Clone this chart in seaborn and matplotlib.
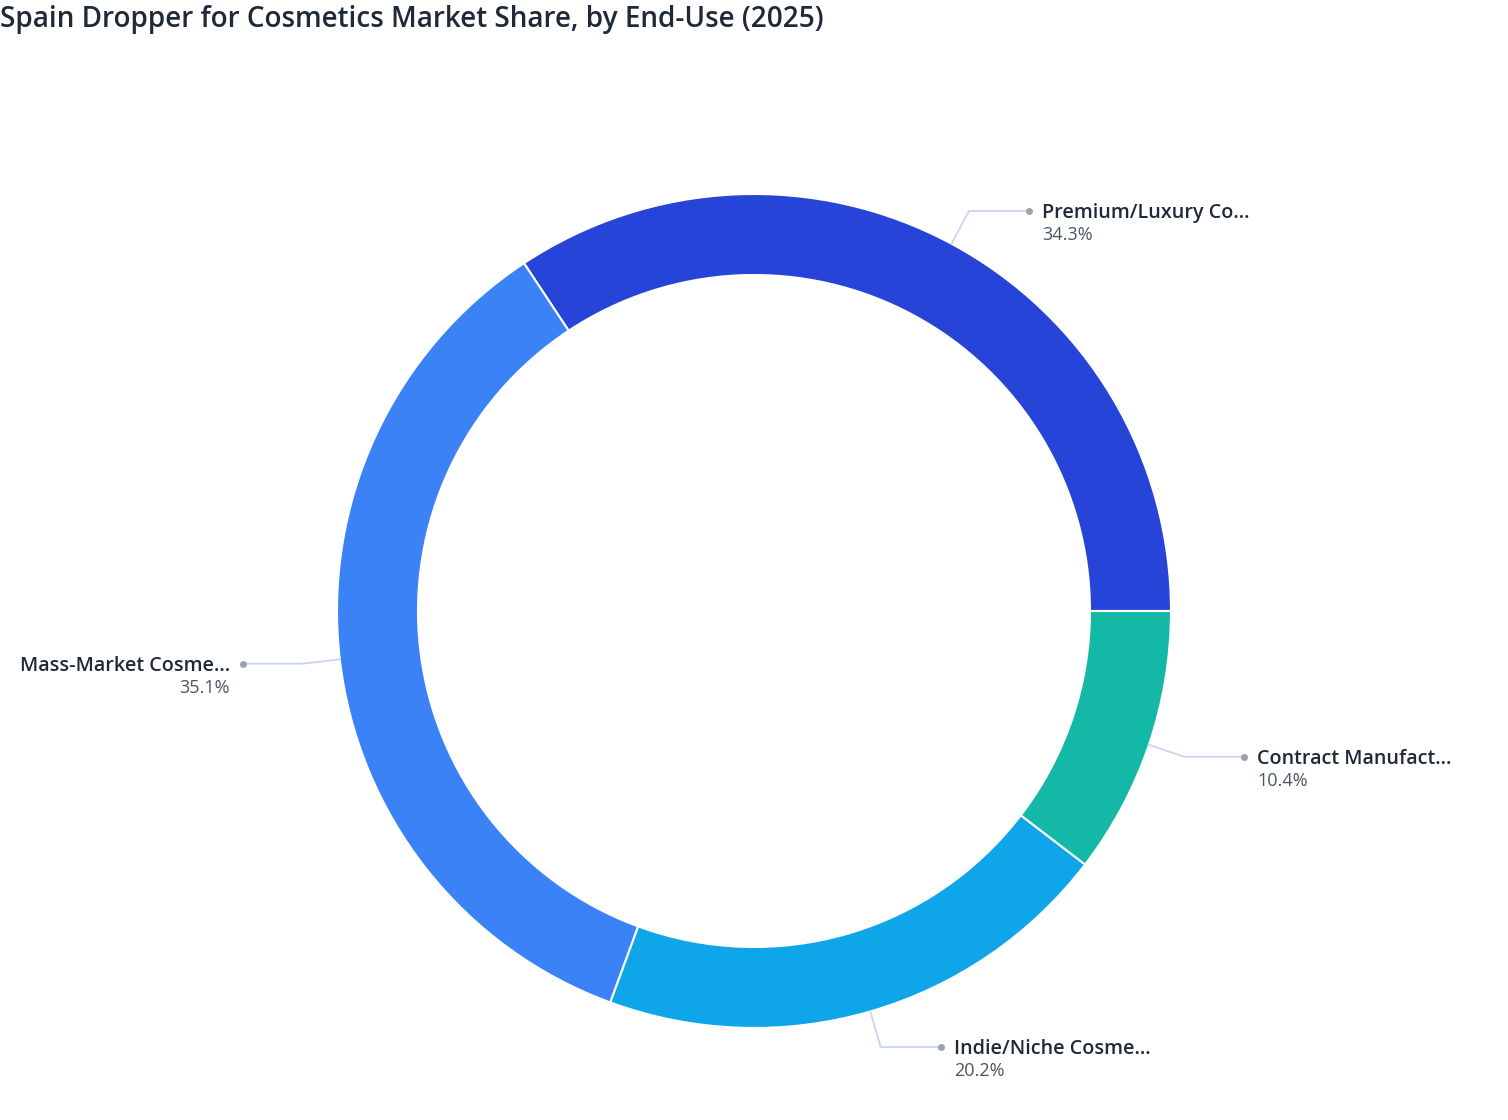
import matplotlib
matplotlib.use("Agg")
import matplotlib.pyplot as plt
import seaborn as sns
import numpy as np

segments = ["Premium/Luxury Co...", "Mass-Market Cosme...", "Indie/Niche Cosme...", "Contract Manufact..."]
shares = [34.3, 35.1, 20.2, 10.4]
colors = ["#2744D8", "#3B82F6", "#0EA5E9", "#14B8A6"]

TITLE = "Spain Dropper for Cosmetics Market Share, by End-Use (2025)"

sns.set_theme(style="white")
plt.rcParams['font.family'] = ['Open Sans', 'DejaVu Sans']

W, H = 1508, 1120
fig = plt.figure(figsize=(W / 100, H / 100), dpi=100)
ax = fig.add_axes([0, 0, 1, 1])

cx, cy = 754, H - 611
R = 417
ring = 81

wedges, _ = ax.pie(shares, colors=colors, startangle=0, counterclock=True,
                   radius=R, center=(cx, cy), frame=True,
                   wedgeprops=dict(width=ring, edgecolor="white", linewidth=1.5))
ax.set_xlim(0, W)
ax.set_ylim(0, H)
ax.set_aspect("equal")
ax.axis("off")

line_col = "#c8d6ee"
for w, name, val in zip(wedges, segments, shares):
    mid = np.deg2rad((w.theta1 + w.theta2) / 2)
    ux, uy = np.cos(mid), np.sin(mid)
    x0, y0 = cx + R * ux, cy + R * uy
    x1, y1 = cx + 1.089 * R * ux, cy + 1.089 * R * uy
    side = 1 if ux >= 0 else -1
    x2 = x1 + side * 60
    ax.plot([x0, x1, x2], [y0, y1, y1], color=line_col, lw=1.3, zorder=1)
    ax.plot([x2], [y1], "o", ms=4, color="#9ca3af", zorder=2)
    ha = "left" if side > 0 else "right"
    tx = x2 + side * 13
    ax.text(tx, y1 - 2, name, ha=ha, va="center", fontsize=14.2,
            color="#1f2937", fontweight="semibold")
    ax.text(tx, y1 - 24, f"{val}%", ha=ha, va="center", fontsize=13,
            color="#4b5563")

fig.text(0, 1 - 19 / H, TITLE, ha="left", va="center", fontsize=20.1,
         color="#1f2937", fontweight="semibold")

fig.savefig("out.png", dpi=100, facecolor="white")
